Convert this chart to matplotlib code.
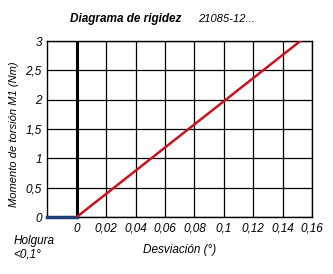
import numpy as np
import matplotlib.pyplot as plt

# data
x_ticks = [0, 0.02, 0.04, 0.06, 0.08, 0.1, 0.12, 0.14, 0.16]
x_tick_labels = ["0", "0,02", "0,04", "0,06", "0,08", "0,1", "0,12", "0,14", "0,16"]
y_ticks = [0, 0.5, 1, 1.5, 2, 2.5, 3]
y_tick_labels = ["0", "0,5", "1", "1,5", "2", "2,5", "3"]
stiff_x = [0, 0.152]
stiff_y = [0, 3]
play_x = [-0.02, 0]
play_y = [0, 0]

plt.rcParams['font.family'] = ['Liberation Sans', 'DejaVu Sans']

fig = plt.figure(figsize=(3.33, 2.74), dpi=100)
ax = fig.add_axes([0.142, 0.208, 0.795, 0.642])

ax.set_xlim(-0.02, 0.16)
ax.set_ylim(0, 3)
ax.set_xticks(x_ticks)
ax.set_xticklabels(x_tick_labels, fontstyle='italic', fontsize=8.5)
ax.set_yticks(y_ticks)
ax.set_yticklabels(y_tick_labels, fontstyle='italic', fontsize=8.5)
ax.tick_params(length=0, pad=4)
ax.grid(True, color='black', linewidth=0.9)
for s in ax.spines.values():
    s.set_linewidth(1.0)

ax.axvline(0, color='black', linewidth=2.2, zorder=3)
ax.plot(play_x, play_y, color='#1f3f7a', linewidth=2.5, zorder=4, clip_on=False)
ax.plot(stiff_x, stiff_y, color='#c8141e', linewidth=1.8, zorder=5)

ax.set_ylabel("Momento de torsión M1 (Nm)", fontstyle='italic', fontsize=8, labelpad=5)
ax.yaxis.set_label_coords(-0.105, 0.47)
ax.set_xlabel("Desviación (°)", fontstyle='italic', fontsize=8.5, labelpad=7)

fig.text(0.21, 0.918, "Diagrama de rigidez", fontstyle='italic', fontweight='bold', fontsize=8.5)
fig.text(0.595, 0.918, "21085-12...", fontstyle='italic', fontsize=8)
fig.text(0.04, 0.06, "Holgura\n<0,1°", fontstyle='italic', fontsize=8.5, linespacing=1.2)

fig.savefig("out.png", dpi=100)
